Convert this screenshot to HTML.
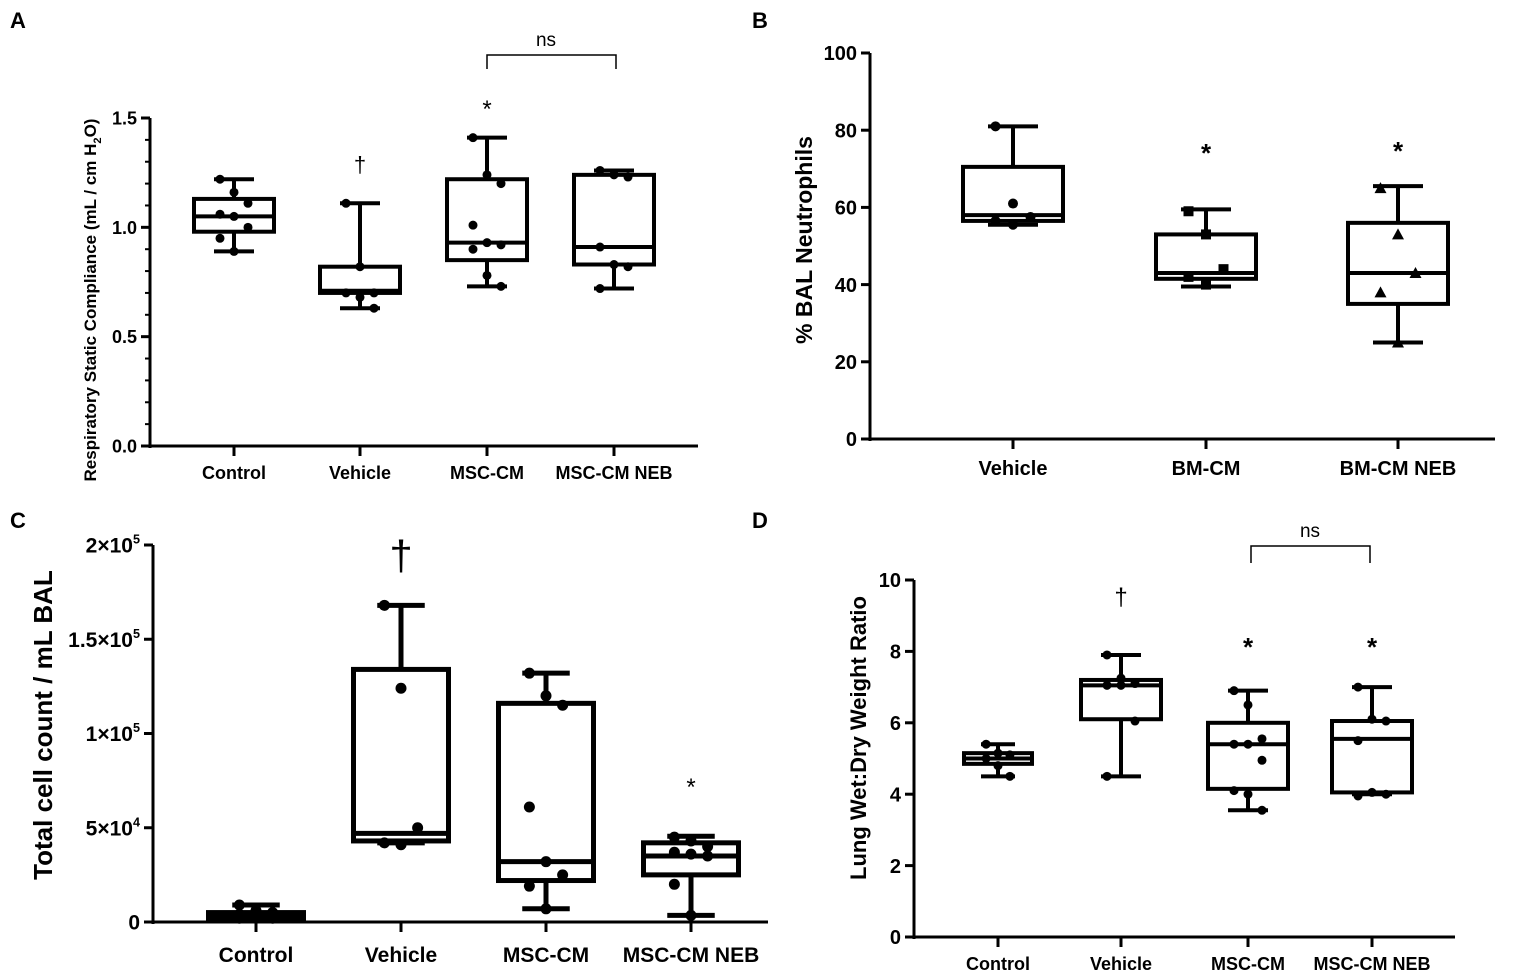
<!DOCTYPE html>
<html><head><meta charset="utf-8"><style>
html,body{margin:0;padding:0;background:#fff;}
svg{display:block;font-family:"Liberation Sans",Arial,sans-serif;}
</style></head><body>
<svg id="fig" width="1535" height="975" viewBox="0 0 1535 975">
<text x="10" y="28" font-size="22" font-weight="bold">A</text>
<text x="752" y="28" font-size="22" font-weight="bold">B</text>
<text x="10" y="528" font-size="22" font-weight="bold">C</text>
<text x="752" y="528" font-size="22" font-weight="bold">D</text>
</svg>
<script>
// ---- Panel A data ----
const aCategories=["Control","Vehicle","MSC-CM","MSC-CM NEB"];
const aWhiskerLo=[0.89,0.63,0.73,0.72];
const aQ1=[0.98,0.70,0.85,0.83];
const aMedian=[1.05,0.71,0.93,0.91];
const aQ3=[1.13,0.82,1.22,1.24];
const aWhiskerHi=[1.22,1.11,1.41,1.26];
const aPoints=[[1.22,1.16,1.11,1.06,1.05,1.0,0.95,0.89],[1.11,0.82,0.70,0.70,0.68,0.63],[1.41,1.24,1.20,1.01,0.93,0.92,0.90,0.78,0.73],[1.26,1.24,1.23,0.91,0.83,0.82,0.72]];
const aTicks=[0,0.5,1.0,1.5];
const aTickLabels=["0.0","0.5","1.0","1.5"];
// ---- Panel B data ----
const bCategories=["Vehicle","BM-CM","BM-CM NEB"];
const bWhiskerLo=[55.5,39.5,25];
const bQ1=[56.5,41.5,35];
const bMedian=[58,43,43];
const bQ3=[70.5,53,56];
const bWhiskerHi=[81,59.5,65.5];
const bPoints=[[81,61,57.5,56.5,55.5],[59,53,44,42,40],[65,53,43,38,25]];
const bTicks=[0,20,40,60,80,100];
const bTickLabels=["0","20","40","60","80","100"];
// ---- Panel C data ----
const cCategories=["Control","Vehicle","MSC-CM","MSC-CM NEB"];
const cWhiskerLo=[2000,42000,7000,3500];
const cQ1=[2000,43000,22000,25000];
const cMedian=[4000,47000,32000,35000];
const cQ3=[5000,134000,116000,42000];
const cWhiskerHi=[9000,168000,132000,45500];
const cPoints=[[9000,6000,5000,4000,3000,2000,2000],[168000,124000,50000,42000,41000],[132000,120000,115000,61000,32000,25000,19000,7000],[45000,43000,40000,37000,36000,35000,20000,3500]];
const cTicks=[0,50000,100000,150000,200000];
const cTickBase=["0","5×10","1×10","1.5×10","2×10"];
const cTickExp=["","4","5","5","5"];
// ---- Panel D data ----
const dCategories=["Control","Vehicle","MSC-CM","MSC-CM NEB"];
const dWhiskerLo=[4.5,4.5,3.55,4.0];
const dQ1=[4.85,6.1,4.15,4.05];
const dMedian=[5.0,7.05,5.4,5.55];
const dQ3=[5.15,7.2,6.0,6.05];
const dWhiskerHi=[5.4,7.9,6.9,7.0];
const dPoints=[[5.4,5.15,5.1,5.0,4.8,4.5],[7.9,7.25,7.1,7.05,7.05,6.05,4.5],[6.9,6.5,5.55,5.4,5.4,4.95,4.1,4.0,3.55],[7.0,6.1,6.05,5.5,4.05,4.0,3.95]];
const dTicks=[0,2,4,6,8,10];
const dTickLabels=["0","2","4","6","8","10"];

const NS="http://www.w3.org/2000/svg";
const svg=document.getElementById('fig');
function mk(tag,attrs,parent){const e=document.createElementNS(NS,tag);for(const k in attrs)e.setAttribute(k,attrs[k]);(parent||svg).appendChild(e);return e;}

function panel(cfg){
  const g=mk('g',{});
  
  
  const y=v=>cfg.y0+(v-cfg.vmin)/(cfg.vmax-cfg.vmin)*(cfg.y1-cfg.y0);
  const x=i=>cfg.xs[i];
  const ya=mk('line',{x1:cfg.ax,y1:cfg.y0+2,x2:cfg.ax,y2:y(cfg.vmax),stroke:'#000','stroke-width':3},g);
  
  
  const xa=mk('line',{x1:cfg.ax-1.5,y1:cfg.y0,x2:cfg.axEnd,y2:cfg.y0,stroke:'#000','stroke-width':3},g);
  
  
  cfg.ticks.forEach((t,i)=>{
    mk('line',{x1:cfg.ax-9,y1:y(t),x2:cfg.ax,y2:y(t),stroke:'#000','stroke-width':3},g);
    const tx=mk('text',{x:cfg.ax-13,y:y(t)+cfg.tickFs*0.36,'font-size':cfg.tickFs,'font-weight':'bold','text-anchor':'end'},g);
    
    
    if(cfg.tickExp){tx.textContent=cfg.tickLabels[i];if(cfg.tickExp[i]){const s=mk('tspan',{dy:-9,'font-size':cfg.tickFs*0.6},tx);s.textContent=cfg.tickExp[i];}}
    else tx.textContent=cfg.tickLabels[i];
  });
  if(cfg.minor){for(let v=cfg.vmin;v<=cfg.vmax+1e-9;v+=cfg.minor){mk('line',{x1:cfg.ax-5,y1:y(v),x2:cfg.ax,y2:y(v),stroke:'#000','stroke-width':2},g);}}
  const yt=mk('text',{x:cfg.ytx,y:cfg.yty,'font-size':cfg.ytFs,'font-weight':'bold','text-anchor':'middle',transform:`rotate(-90 ${cfg.ytx} ${cfg.yty})`},g);
  
  
  if(cfg.ytitleSub){yt.textContent=cfg.ytitle;const s=mk('tspan',{dy:5,'font-size':cfg.ytFs*0.65},yt);s.textContent='2';const s2=mk('tspan',{dy:-5},yt);s2.textContent='O)';}
  else yt.textContent=cfg.ytitle;
  cfg.cats.forEach((c,i)=>{
    const cx=x(i),hw=cfg.bw[i]/2;
    mk('line',{x1:cx,y1:cfg.y0,x2:cx,y2:cfg.y0+10,stroke:'#000','stroke-width':3},g);
    const lb=mk('text',{x:cx,y:cfg.labY,'font-size':cfg.labFs,'font-weight':'bold','text-anchor':'middle'},g);
    lb.textContent=c;
    
    
    const bg=mk('g',{},g);
    
    
    const sw=cfg.sw;
    mk('line',{x1:cx,y1:y(cfg.wlo[i]),x2:cx,y2:y(cfg.q1[i]),stroke:'#000','stroke-width':sw},bg);
    mk('line',{x1:cx,y1:y(cfg.q3[i]),x2:cx,y2:y(cfg.whi[i]),stroke:'#000','stroke-width':sw},bg);
    const cw=hw*0.5;
    mk('line',{x1:cx-cw,y1:y(cfg.wlo[i]),x2:cx+cw,y2:y(cfg.wlo[i]),stroke:'#000','stroke-width':sw},bg);
    mk('line',{x1:cx-cw,y1:y(cfg.whi[i]),x2:cx+cw,y2:y(cfg.whi[i]),stroke:'#000','stroke-width':sw},bg);
    mk('rect',{x:cx-hw,y:y(cfg.q3[i]),width:2*hw,height:y(cfg.q1[i])-y(cfg.q3[i]),fill:'none',stroke:'#000','stroke-width':sw},bg);
    mk('line',{x1:cx-hw,y1:y(cfg.med[i]),x2:cx+hw,y2:y(cfg.med[i]),stroke:'#000','stroke-width':sw},bg);
    cfg.pts[i].forEach((p,j)=>{
      const off=((j%3)-1)*hw*0.35;
      const px=cx+off,py=y(p);
      const shape=cfg.shapes?cfg.shapes[i]:'c';
      let m;
      if(shape==='s')m=mk('rect',{x:px-5,y:py-5,width:10,height:10,fill:'#000'},bg);
      else if(shape==='t')m=mk('polygon',{points:`${px},${py-6} ${px-6},${py+5} ${px+6},${py+5}`,fill:'#000'},bg);
      else m=mk('circle',{cx:px,cy:py,r:cfg.pr,fill:'#000'},bg);
      
      
    });
  });
  return {g,y,x};
}
function ann(txt,x,y,fs,name,weight){const t=mk('text',{x:x,y:y,'font-size':fs,'text-anchor':'middle','font-weight':weight||'normal'});t.textContent=txt;return t;}
function bracket(x1,x2,yt,yb,name){const p=mk('path',{d:`M${x1} ${yb} V${yt} H${x2} V${yb}`,fill:'none',stroke:'#000','stroke-width':1.5});}

panel({name:'panel-a',cats:aCategories,wlo:aWhiskerLo,q1:aQ1,med:aMedian,q3:aQ3,whi:aWhiskerHi,pts:aPoints,
 ticks:aTicks,tickLabels:aTickLabels,vmin:0,vmax:1.5,y0:446,y1:118,ax:150,axEnd:698,xs:[234,360,487,614],bw:[80,80,80,80],
 sw:4,pr:4.5,tickFs:18,labFs:18,labY:479,ytitle:'Respiratory Static Compliance (mL / cm H',ytitleSub:true,ytx:96,yty:300,ytFs:17,minor:0.1});
ann('†',360,172,22,'significance-dagger-vehicle');
ann('*',487,117,24,'significance-star-msc-cm');
bracket(487,616,55,69,'ns-bracket-a');
ann('ns',546,46,19,'ns-label-a');

panel({name:'panel-b',cats:bCategories,wlo:bWhiskerLo,q1:bQ1,med:bMedian,q3:bQ3,whi:bWhiskerHi,pts:bPoints,shapes:['c','s','t'],
 ticks:bTicks,tickLabels:bTickLabels,vmin:0,vmax:100,y0:439,y1:53,ax:870,axEnd:1495,xs:[1013,1206,1398],bw:[100,100,100],
 sw:4,pr:5,tickFs:20,labFs:20,labY:475,ytitle:'% BAL Neutrophils',ytx:812,yty:240,ytFs:23});
ann('*',1206,162,26,'significance-star-bm-cm','bold');
ann('*',1398,160,26,'significance-star-bm-cm-neb','bold');

panel({name:'panel-c',cats:cCategories,wlo:cWhiskerLo,q1:cQ1,med:cMedian,q3:cQ3,whi:cWhiskerHi,pts:cPoints,
 ticks:cTicks,tickLabels:cTickBase,tickExp:cTickExp,vmin:0,vmax:200000,y0:922,y1:545,ax:153,axEnd:768,xs:[256,401,546,691],bw:[95,95,95,95],
 sw:5,pr:5.5,tickFs:21,labFs:21,labY:962,ytitle:'Total cell count / mL BAL',ytx:52,yty:725,ytFs:26});
ann('†',401,570,42,'significance-dagger-vehicle-c');
ann('*',691,795,24,'significance-star-neb-c');

panel({name:'panel-d',cats:dCategories,wlo:dWhiskerLo,q1:dQ1,med:dMedian,q3:dQ3,whi:dWhiskerHi,pts:dPoints,
 ticks:dTicks,tickLabels:dTickLabels,vmin:0,vmax:10,y0:937,y1:580,ax:914,axEnd:1455,xs:[998,1121,1248,1372],bw:[68,80,80,80],
 sw:4,pr:4.5,tickFs:20,labFs:18,labY:970,ytitle:'Lung Wet:Dry Weight Ratio',ytx:866,yty:738,ytFs:22});
ann('†',1121,605,24,'significance-dagger-vehicle-d');
ann('*',1248,656,26,'significance-star-msc-cm-d','bold');
ann('*',1372,656,26,'significance-star-neb-d','bold');
bracket(1251,1370,546,563,'ns-bracket-d');
ann('ns',1310,537,19,'ns-label-d');
</script>
</body></html>
